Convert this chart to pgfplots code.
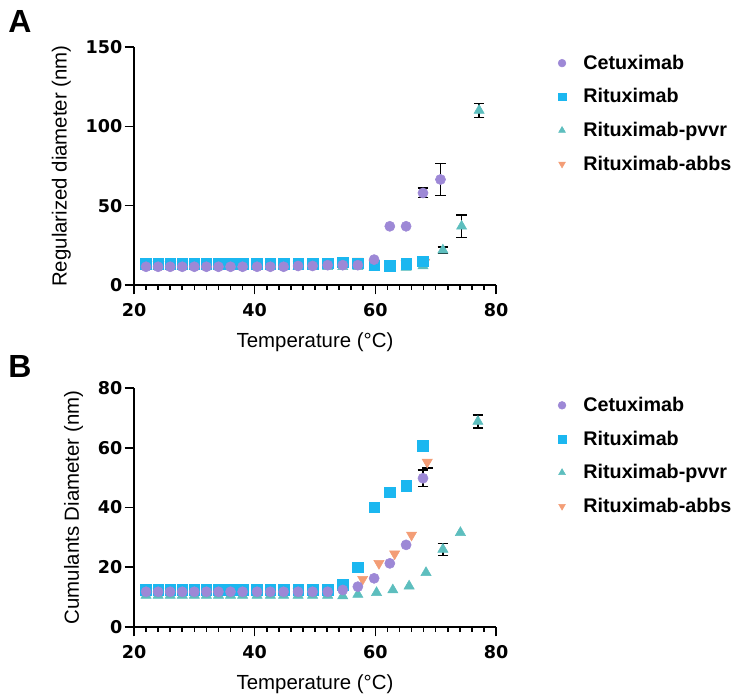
\documentclass[border=0pt]{standalone}
\usepackage{fontspec}
\setmainfont{Liberation Sans}
\newfontfamily\tickfont{DejaVu Sans}
\usepackage{pgfplots}
\pgfplotsset{compat=1.18}
\definecolor{cet}{RGB}{157,136,214}
\definecolor{rit}{RGB}{27,183,240}
\definecolor{pvvr}{RGB}{93,190,190}
\definecolor{abbs}{RGB}{243,157,118}
\pgfplotsset{
  myaxis/.style={
    scale only axis, width=271.5pt,
    axis x line*=bottom, axis y line*=left,
    axis line style={-, line width=1.5pt},
    xmin=20, xmax=80, xtick={20,40,60,80}, minor x tick num=9,
    tick align=outside, major tick length=7pt, minor tick length=3.6pt,
    every tick/.style={black, line width=1.2pt},
    /pgf/number format/assume math mode=true,
    ticklabel style={font=\tickfont\bfseries\fontsize{13.2}{15}\selectfont, inner sep=1.5pt},
    xticklabel style={yshift=-5pt},
    label style={font=\fontsize{15.3}{18}\selectfont},
    xlabel style={yshift=-7pt},
    ylabel shift=6pt,
    xlabel={Temperature (°C)},
    clip=false,
    reverse legend,
    legend cell align=left,
    legend style={draw=none, fill=none, font=\bfseries\fontsize{14.8}{17}\selectfont,
      row sep=9pt, anchor=north west},
    legend image code/.code={\draw[mark size=2.9pt] plot coordinates {(0cm,0cm)}; \path[draw=none,fill=none] (-2.9pt,0pt) -- (14pt,0pt);},
  },
  cetS/.style={only marks, mark=*, color=cet, mark size=3.8pt},
  ritS/.style={only marks, mark=square*, color=rit, mark size=4pt},
  pvvrS/.style={only marks, mark=triangle*, color=pvvr, mark size=4.4pt},
  abbsS/.style={only marks, mark=triangle*, color=abbs, mark size=4.4pt, mark options={rotate=180}},
  errS/.style={draw=none, mark=none, forget plot,
    error bars/.cd, y dir=both, y explicit,
    error bar style={draw=black, line width=1.1pt},
    error mark options={draw=black, rotate=90, mark size=4pt, line width=1.1pt}},
}
\begin{document}
\begin{tikzpicture}
\path (0,0) rectangle (558pt,522.75pt);
\node[anchor=north west, inner sep=0pt] at (6pt,515.25pt) {\bfseries\fontsize{24}{28}\selectfont A};
\node[anchor=north west, inner sep=0pt] at (6pt,256.5pt) {\bfseries\fontsize{24}{28}\selectfont B};
% Panel A
\begin{axis}[myaxis, at={(100.5pt,309pt)}, anchor=south west, height=178.5pt,
  ymin=0, ymax=150, ytick={0,50,100,150},
  ylabel={Regularized diameter (nm)},
  legend style={at={(1.16,0.99)}}]
\addplot[errS] coordinates {(67.9,58) +- (0,3) (70.8,66.5) +- (0,10) (71.2,22) +- (0,2) (74.3,37) +- (0,7) (77.2,110) +- (0,4.5)};
\addplot[abbsS] coordinates {(22,13)(24,13)(26,13)(28,13)(30,13)(32,13)(34,13)(36,13)(38,13)(40.4,13)(42.6,13)(44.8,13)(47.2,13.2)(49.6,13.5)(52.1,14)(54.6,14.5)(57.1,15)(59.8,13.5)(62.4,13)(65.1,13.5)(68.2,14.5)};
\addlegendentry{Rituximab-abbs}
\addplot[pvvrS] coordinates {(22,11.5)(24,11.5)(26,11.5)(28,11.5)(30,11.5)(32,11.5)(34,11.5)(36,11.5)(38,11.5)(40.4,11.5)(42.6,11.5)(44.8,11.5)(47.2,11.5)(49.6,11.5)(52.1,11.5)(54.6,11.5)(57.1,11.5)(59.8,11)(62.4,10.5)(65.1,11)(67.9,12)(71.2,22)(74.3,37)(77.2,110)};
\addlegendentry{Rituximab-pvvr}
\addplot[ritS] coordinates {(22,13.5)(24,13.5)(26,13.5)(28,13.5)(30,13.5)(32,13.5)(34,13.5)(36,13.5)(38,13.5)(40.4,13.5)(42.6,13.5)(44.8,13.5)(47.2,13.5)(49.6,13.5)(52.1,13.8)(54.6,14.4)(57.1,13.8)(59.8,12.5)(62.4,12)(65.1,13.5)(67.9,15)};
\addlegendentry{Rituximab}
\addplot[cetS] coordinates {(22,11.5)(24,11.5)(26,11.5)(28,11.5)(30,11.5)(32,11.5)(34,11.5)(36,11.5)(38,11.5)(40.4,11.5)(42.6,11.5)(44.8,11.5)(47.2,12)(49.6,12)(52.1,12.5)(54.6,12.5)(57.1,12.5)(59.8,16)(62.4,37)(65.1,37)(67.9,58)(70.8,66.5)};
\addlegendentry{Cetuximab}
\end{axis}
% Panel B
\begin{axis}[myaxis, at={(100.5pt,52.5pt)}, anchor=south west, height=179.25pt,
  ymin=0, ymax=80, ytick={0,20,40,60,80},
  ylabel={Cumulants Diameter (nm)},
  legend style={at={(1.16,0.985)}}]
\addplot[errS] coordinates {(67.9,49.8) +- (0,2.7) (71.2,26) +- (0,2) (77,68.8) +- (0,2.2)};
\addplot[errS, y dir=minus] coordinates {(68.6,55.2) +- (0,2)};
\addplot[abbsS] coordinates {(22,12)(24,12)(26,12)(28,12)(30,12)(32,12)(34,12)(36,12)(38,12)(40.4,12)(42.6,12)(44.8,12)(47.2,12)(49.6,12)(52.1,12.2)(54.6,13)(57.9,16)(60.6,21.3)(63.2,24.5)(66,30.8)(68.6,55.2)};
\addlegendentry{Rituximab-abbs}
\addplot[pvvrS] coordinates {(22,10.6)(24,10.6)(26,10.6)(28,10.6)(30,10.6)(32,10.6)(34,10.6)(36,10.6)(38,10.6)(40.4,10.6)(42.6,10.6)(44.8,10.6)(47.2,10.6)(49.6,10.6)(52.1,10.6)(54.6,10.4)(57.1,10.9)(60.2,11.5)(62.9,12.4)(65.6,13.7)(68.4,18.2)(71.2,26)(74.1,31.6)(77,68.8)};
\addlegendentry{Rituximab-pvvr}
\addplot[ritS] coordinates {(22,12.4)(24,12.4)(26,12.4)(28,12.4)(30,12.4)(32,12.4)(34,12.4)(36,12.4)(38,12.4)(40.4,12.4)(42.6,12.4)(44.8,12.4)(47.2,12.4)(49.6,12.4)(52.1,12.5)(54.6,14.1)(57.1,20)(59.8,40.1)(62.4,45.1)(65.1,47.3)(67.9,60.7)};
\addlegendentry{Rituximab}
\addplot[cetS] coordinates {(22,11.8)(24,11.8)(26,11.8)(28,11.8)(30,11.8)(32,11.8)(34,11.8)(36,11.8)(38,11.8)(40.4,11.8)(42.6,11.8)(44.8,11.8)(47.2,11.8)(49.6,11.8)(52.1,11.8)(54.6,12.4)(57.1,13.5)(59.8,16.3)(62.4,21.3)(65.1,27.5)(67.9,49.8)};
\addlegendentry{Cetuximab}
\end{axis}
\end{tikzpicture}
\end{document}
